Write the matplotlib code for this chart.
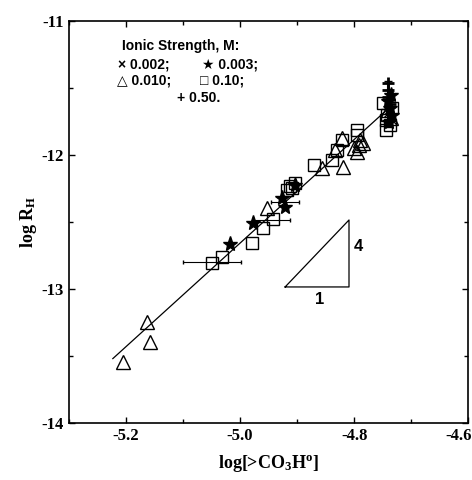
import numpy as np
import matplotlib
matplotlib.use("Agg")
import matplotlib.pyplot as plt
import matplotlib.transforms as mtransforms
from matplotlib.ticker import MultipleLocator

plt.rcParams['font.family'] = ['Liberation Serif', 'DejaVu Serif']
plt.rcParams['mathtext.fontset'] = 'custom'
plt.rcParams['mathtext.rm'] = 'Liberation Serif:bold'
plt.rcParams['mathtext.it'] = 'Liberation Serif:italic:bold'

# --- data ---
# I = 0.010 M (open triangles)
tri_x = [-5.205, -5.163, -5.158, -4.953, -4.856, -4.819, -4.833, -4.800,
         -4.791, -4.784, -4.795, -4.789, -4.821, -4.740, -4.735]
tri_y = [-13.545, -13.246, -13.396, -12.396, -12.097, -12.090, -11.963, -11.948,
         -11.925, -11.910, -11.978, -11.888, -11.873, -11.66, -11.72]

# I = 0.10 M (open squares)
sq_x = [-5.049, -5.032, -4.979, -4.960, -4.942, -4.918, -4.912, -4.904, -4.909,
        -4.870, -4.839, -4.830, -4.821, -4.795, -4.795,
        -4.749, -4.742, -4.737, -4.744, -4.744, -4.733]
sq_y = [-12.806, -12.761, -12.657, -12.545, -12.478, -12.261, -12.231, -12.209, -12.246,
        -12.075, -12.037, -11.963, -11.888, -11.813, -11.851,
        -11.612, -11.701, -11.776, -11.740, -11.813, -11.650]

# I = 0.003 M (filled stars)
star_x = [-5.018, -4.977, -4.926, -4.921, -4.904, -4.740, -4.737, -4.734, -4.739, -4.736]
star_y = [-12.664, -12.507, -12.321, -12.388, -12.224, -11.60, -11.65, -11.70, -11.75, -11.55]

# I = 0.002 M (crosses)
cross_x = [-4.739, -4.735]
cross_y = [-11.68, -11.73]

# I = 0.50 M (plus)
plus_x = [-4.740, -4.740, -4.740, -4.738]
plus_y = [-11.463, -11.515, -11.567, -11.62]

# horizontal error bars (x, y, half-width)
eb_x = [-5.049, -4.945, -4.921]
eb_y = [-12.800, -12.485, -12.350]
eb_xerr = [0.051, 0.033, 0.025]

# vertical error bar in the top cluster
veb_x = [-4.740]
veb_y = [-11.62]
veb_yerr = [0.17]

# fitted line end points
fit_x = [-5.223, -4.742]
fit_y = [-13.52, -11.66]

# slope triangle (rise 4 : run 1)
slope_x = [-4.921, -4.809, -4.809, -4.921]
slope_y = [-12.985, -12.985, -12.485, -12.985]

fig = plt.figure(figsize=(4.72, 4.80), dpi=100)
ax = fig.add_axes([0.146, 0.119, 0.846, 0.837])

ax.plot(fit_x, fit_y, color='black', lw=0.9)
ax.plot(slope_x, slope_y, color='black', lw=0.9)

ax.errorbar(eb_x, eb_y, xerr=eb_xerr, fmt='none', ecolor='black', elinewidth=0.8, capsize=1.5)
ax.errorbar(veb_x, veb_y, yerr=veb_yerr, fmt='none', ecolor='black', elinewidth=1.5, capsize=3)

ax.plot(tri_x, tri_y, '^', ms=10, mfc='none', mec='black', mew=1.0, ls='none')
ax.plot(sq_x, sq_y, 's', ms=9, mfc='none', mec='black', mew=1.0, ls='none')
ax.plot(star_x, star_y, '*', ms=11, color='black', ls='none')
ax.plot(cross_x, cross_y, 'x', ms=7, color='black', mew=1.0, ls='none')
ax.plot(plus_x, plus_y, '+', ms=9, color='black', mew=2.0, ls='none')

ax.text(-4.800, -12.72, '4', family=['Liberation Sans', 'DejaVu Sans'], fontweight='bold', fontsize=12)
ax.text(-4.869, -13.11, '1', family=['Liberation Sans', 'DejaVu Sans'], fontweight='bold', fontsize=12)

# legend as text block
lfam = ['Liberation Sans', 'DejaVu Sans']
lkw = dict(transform=ax.transAxes, family=lfam, fontweight='bold', fontsize=10, va='center', ha='left')
ax.text(0.133, 0.938, 'Ionic Strength, M:', **lkw)
ax.text(0.123, 0.891, '\u00d7 0.002;', **lkw)
ax.text(0.333, 0.891, '\u2605 0.003;', **lkw)
ax.text(0.120, 0.851, '\u25b3 0.010;', **lkw)
ax.text(0.328, 0.851, '\u25a1 0.10;', **lkw)
ax.text(0.271, 0.808, '+ 0.50.', **lkw)

ax.set_xlim(-5.3, -4.6)
ax.set_ylim(-14, -11)
ax.xaxis.set_minor_locator(MultipleLocator(0.1))
ax.yaxis.set_minor_locator(MultipleLocator(0.5))
ax.set_xticks([-5.2, -5.0, -4.8, -4.6])
ax.set_xticklabels(['-5.2', '-5.0', '-4.8', '-4.6'])
ax.set_yticks([-14, -13, -12, -11])
ax.set_yticklabels(['-14', '-13', '-12', '-11'])
ax.tick_params(which='both', direction='in', top=True, right=True, labelsize=12, width=1)
ax.tick_params(which='major', length=4)
ax.tick_params(which='minor', length=3)
for lab in ax.get_xticklabels() + ax.get_yticklabels():
    lab.set_fontweight('bold')
for s in ax.spines.values():
    s.set_linewidth(1.2)

# keep the last x tick label inside the canvas
last = ax.get_xticklabels()[-1]
last.set_transform(last.get_transform() + mtransforms.ScaledTranslation(-10 / 100, 0, fig.dpi_scale_trans))

ax.set_xlabel(r'log[>CO$_3$H$^{\rm o}$]', fontsize=13, fontweight='bold', labelpad=7)
ax.set_ylabel(r'log R$_{\rm H}$', fontsize=13, fontweight='bold', labelpad=2)

fig.savefig('out.png', dpi=100)
